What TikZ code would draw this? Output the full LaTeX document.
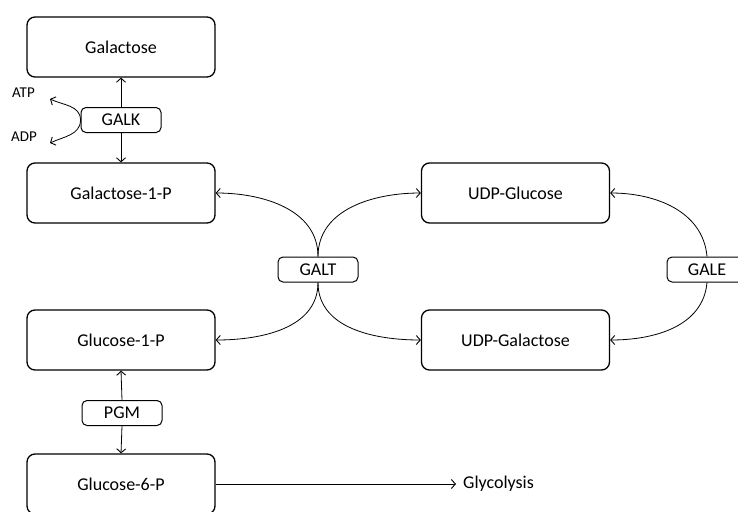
\documentclass[tikz,border=0pt]{standalone}
\usepackage{fontspec}
\setmainfont{Carlito}
\usetikzlibrary{arrows.meta}
\begin{document}
\begin{tikzpicture}[x=1pt,y=-1pt,
  mbox/.style={draw, rounded corners=8pt, line width=1.3pt, minimum width=188pt, minimum height=60pt, inner sep=0pt, font=\fontsize{18}{20}\selectfont},
  enz/.style={draw, rounded corners=5pt, line width=1pt, minimum width=80pt, minimum height=25pt, inner sep=0pt, font=\fontsize{18}{20}\selectfont},
  lab/.style={inner sep=0pt, font=\fontsize{15}{17}\selectfont},
  arr/.style={line width=0.8pt, -{Straight Barb[length=4pt,width=9pt,line width=0.9pt]}}]
\useasboundingbox (0,0) rectangle (738,511);
\begin{scope}
\clip (0,0) rectangle (738,511);
\node[mbox] (gal) at (121,47) {Galactose};
\node[enz] (galk) at (121,120) {GALK};
\node[mbox] (gal1p) at (121,193) {Galactose-1-P};
\node[mbox] (udpglc) at (515.5,193) {UDP-Glucose};
\node[enz] (galt) at (318,269.5) {GALT};
\node[enz] (gale) at (707,269.5) {GALE};
\node[mbox] (glc1p) at (121,340) {Glucose-1-P};
\node[mbox] (udpgal) at (515.5,340) {UDP-Galactose};
\node[enz] (pgm) at (122,413) {PGM};
\node[mbox] (glc6p) at (121,484) {Glucose-6-P};
\node[lab, anchor=west] (atp) at (12,93) {ATP};
\node[lab, anchor=west] (adp) at (11,137) {ADP};
\node[inner sep=0pt, anchor=west, font=\fontsize{18}{20}\selectfont] (glyco) at (463,484) {Glycolysis};
\coordinate (atptip) at (50,99);
\coordinate (adptip) at (50,143);
\coordinate (glytip) at (456,484);

\draw[arr] (galk.north) -- (gal.south);
\draw[arr] (galk.south) -- (gal1p.north);
\draw[arr] (galk.west) to[out=90,in=-25] (atptip);
\draw[arr] (galk.west) to[out=-90,in=25] (adptip);

\draw[arr] (galt.north) to[out=90,in=0] (gal1p.east);
\draw[arr] (galt.north) to[out=90,in=180] (udpglc.west);
\draw[arr] (galt.south) to[out=-90,in=0] (glc1p.east);
\draw[arr] (galt.south) to[out=-90,in=180] (udpgal.west);

\draw[arr] (gale.north) to[out=95,in=0] (udpglc.east);
\draw[arr] (gale.south) to[out=-95,in=0] (udpgal.east);

\draw[arr] (pgm.north) -- (glc1p.south);
\draw[arr] (pgm.south) -- (glc6p.north);

\draw[arr] (glc6p.east) -- (glytip);
\end{scope}
\end{tikzpicture}
\end{document}
